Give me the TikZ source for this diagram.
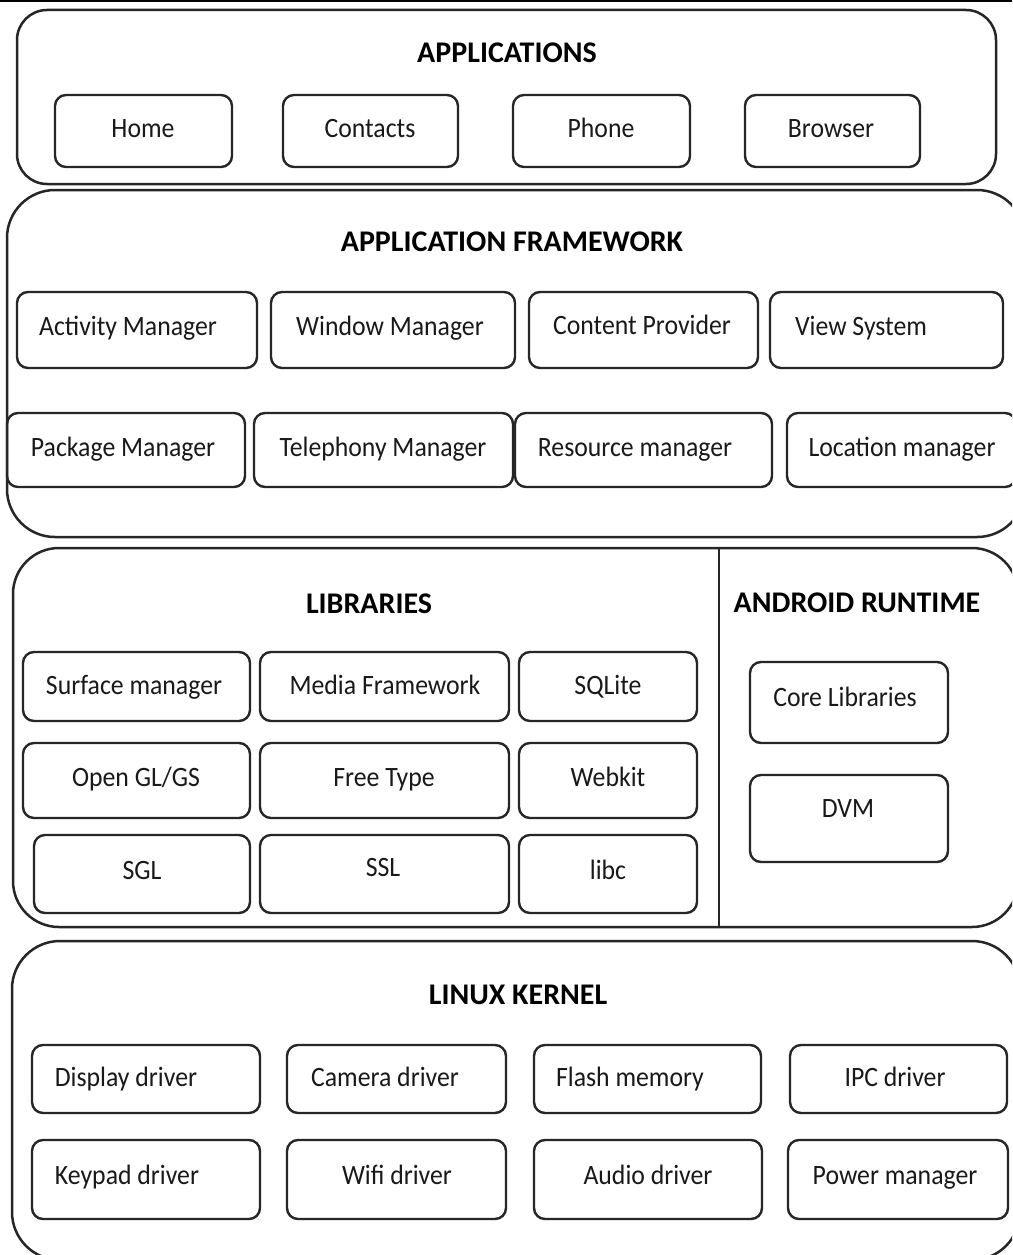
\documentclass[tikz,border=0pt]{standalone}
\usepackage{fontspec}
\setmainfont{Carlito}[FakeStretch=0.92]
\newfontfamily\titlefont{Carlito}
\begin{document}
\begin{tikzpicture}[x=1pt,y=-1pt,
  frame/.style={draw=black!85, line width=2.5pt, inner sep=0pt},
  bx/.style={draw=black!85, line width=2.4pt, rounded corners=11pt, inner sep=0pt},
  lbl/.style={inner sep=0pt, text height=18pt, text depth=0pt, font=\fontsize{28}{32}\selectfont, text=black!90},
  ttl/.style={inner sep=0pt, text height=19.3pt, text depth=0pt, font=\titlefont\fontsize{30}{34}\selectfont\bfseries, text=black},
  sep/.style={draw=black!85, line width=2.3pt}]
\newcommand\layerbox[6]{%
  \node[frame, rounded corners=#6pt, minimum width={(#4-#2)*1pt}, minimum height={(#5-#3)*1pt}] (#1) at ({(#2+#4)/2},{(#3+#5)/2}) {};}
\newcommand\compbox[8]{%
  \node[bx, minimum width={(#4-#2)*1pt}, minimum height={(#5-#3)*1pt}] (#1) at ({(#2+#4)/2},{(#3+#5)/2}) {};
  \node[lbl] (#1-t) at (#6,#7) {#8};}
\useasboundingbox (0,0) rectangle (1012,1255);
\clip (0,0) rectangle (1012,1255);
\fill[white] (0,0) rectangle (1012,1255);
% top rule
\coordinate (rule-l) at (0,1.2);
\coordinate (rule-r) at (1012,1.2);
\draw[line width=2.6pt] (rule-l) -- (rule-r);
% layers
\layerbox{apps}{17}{10}{996}{184}{30}
\layerbox{fw}{7}{190}{1025}{537}{48}
\layerbox{libs}{13}{548}{1018}{927}{46}
\layerbox{kern}{12}{941}{1020}{1260}{48}
\coordinate (div-top) at (719,548);
\coordinate (div-bot) at (719,927);
\draw[sep] (div-top) -- (div-bot);
% titles
\node[ttl] (t-apps) at (507,53) {APPLICATIONS};
\node[ttl] (t-fw) at (512,242) {APPLICATION FRAMEWORK};
\node[ttl] (t-libs) at (369,604) {LIBRARIES};
\node[ttl] (t-rt) at (857,603) {ANDROID RUNTIME};
\node[ttl] (t-kern) at (518,995) {LINUX KERNEL};
% applications
\compbox{home}{55}{95}{232}{167}{143}{128}{Home}
\compbox{contacts}{283}{95}{458}{167}{370}{128}{Contacts}
\compbox{phone}{513}{95}{690}{167}{601}{128}{Phone}
\compbox{browser}{745}{95}{920}{167}{831}{128}{Browser}
% framework
\compbox{activity}{17}{292}{257}{368}{128}{326}{Activity Manager}
\compbox{window}{271}{292}{515}{368}{390}{326}{Window Manager}
\compbox{content}{529}{292}{758}{368}{642}{325}{Content Provider}
\compbox{view}{770}{292}{1003}{368}{861}{326}{View System}
\compbox{package}{7}{413}{245}{487}{123}{447}{Package Manager}
\compbox{telephony}{254}{413}{513}{487}{383}{447}{Telephony Manager}
\compbox{resource}{515}{413}{772}{487}{635}{447}{Resource manager}
\compbox{location}{787}{413}{1016}{487}{902}{447}{Location manager}
% libraries
\compbox{surface}{23}{652}{250}{721}{134}{685}{Surface manager}
\compbox{media}{260}{652}{509}{721}{385}{685}{Media Framework}
\compbox{sqlite}{519}{652}{697}{721}{608}{685}{SQLite}
\compbox{opengl}{23}{743}{250}{818}{136}{777}{Open GL/GS}
\compbox{freetype}{260}{743}{509}{818}{384}{777}{Free Type}
\compbox{webkit}{519}{743}{697}{818}{608}{777}{Webkit}
\compbox{sgl}{34}{835}{250}{913}{142}{870}{SGL}
\compbox{ssl}{260}{835}{509}{913}{383}{867}{SSL}
\compbox{libc}{519}{835}{697}{913}{608}{870}{libc}
% runtime
\compbox{core}{750}{662}{948}{743}{845}{697}{Core Libraries}
\compbox{dvm}{750}{775}{948}{862}{848}{808}{DVM}
% kernel
\compbox{display}{32}{1045}{260}{1113}{126}{1077}{Display driver}
\compbox{camera}{287}{1045}{506}{1113}{385}{1077}{Camera driver}
\compbox{flash}{534}{1045}{761}{1113}{630}{1077}{Flash memory}
\compbox{ipc}{790}{1045}{1007}{1113}{895}{1077}{IPC driver}
\compbox{keypad}{32}{1140}{260}{1219}{127}{1175}{Keypad driver}
\compbox{wifi}{287}{1140}{506}{1219}{397}{1175}{Wifi driver}
\compbox{audio}{534}{1140}{762}{1219}{648}{1175}{Audio driver}
\compbox{power}{788}{1140}{1008}{1219}{895}{1175}{Power manager}
\end{tikzpicture}
\end{document}
